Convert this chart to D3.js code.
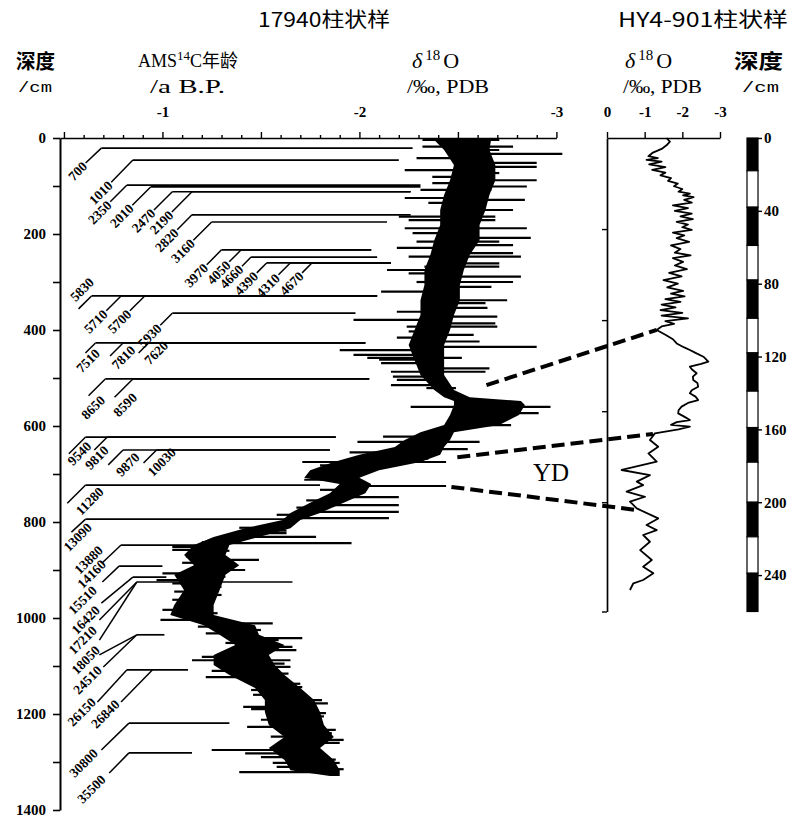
<!DOCTYPE html>
<html>
<head>
<meta charset="utf-8">
<script src="https://cdn.jsdelivr.net/npm/d3@7"></script>
<style>
  body { margin: 0; background: #fff; }
  text { font-family: "Liberation Serif", "DejaVu Serif", serif; fill: #000; }
  .cjk { font-family: "Noto Sans CJK SC", sans-serif; }
  .axis path, .axis line { stroke: #000; }
</style>
</head>
<body>
<svg id="chart" width="796" height="822"></svg>
<script>
// ---- 17940 core: dense d18O band [depth cm, light edge, heavy edge] ----
const coreBand = [
  [0, -2.37, -2.67], [25, -2.43, -2.66], [56, -2.48, -2.69], [88, -2.46, -2.69],
  [119, -2.43, -2.66], [150, -2.41, -2.64], [181, -2.41, -2.61], [213, -2.38, -2.61],
  [244, -2.36, -2.56], [275, -2.33, -2.53], [306, -2.33, -2.51], [338, -2.31, -2.51],
  [369, -2.31, -2.48], [400, -2.28, -2.46], [431, -2.25, -2.43], [463, -2.28, -2.43],
  [494, -2.31, -2.43], [525, -2.38, -2.48], [540, -2.43, -2.56], [548, -2.48, -2.82],
  [556, -2.48, -2.84], [577, -2.46, -2.81], [598, -2.43, -2.71], [613, -2.31, -2.48],
  [629, -2.23, -2.46], [644, -2.18, -2.43], [660, -2.00, -2.41], [675, -1.87, -2.31],
  [692, -1.75, -2.10], [708, -1.72, -2.00], [721, -1.90, -2.06], [740, -1.85, -2.03],
  [760, -1.75, -1.92], [781, -1.65, -1.80], [796, -1.61, -1.70], [813, -1.42, -1.65],
  [831, -1.26, -1.49], [848, -1.16, -1.34], [869, -1.11, -1.32], [890, -1.16, -1.39],
  [910, -1.06, -1.32], [942, -1.11, -1.29], [973, -1.06, -1.26], [994, -1.04, -1.26],
  [1015, -1.21, -1.47], [1035, -1.29, -1.49], [1056, -1.37, -1.62], [1077, -1.26, -1.54],
  [1098, -1.26, -1.57], [1119, -1.34, -1.62], [1146, -1.47, -1.70], [1171, -1.52, -1.77],
  [1196, -1.52, -1.80], [1223, -1.54, -1.82], [1248, -1.62, -1.87], [1271, -1.54, -1.80],
  [1296, -1.62, -1.87], [1317, -1.65, -1.90], [1329, -1.85, -1.90]
];

// single-sample excursions [depth cm, d18O]
const spikes = [
  [4, -2.32], [4, -2.71], [18, -2.78], [18, -2.32], [25, -2.71], [33, -3.03], [42, -2.29],
  [52, -2.90], [60, -2.90], [67, -2.23], [73, -2.71], [81, -2.37], [88, -2.90], [94, -2.37],
  [101, -2.85], [108, -2.31], [108, -2.67], [125, -2.23], [129, -2.84], [135, -2.35],
  [150, -2.78], [164, -2.20], [164, -2.69], [171, -2.25], [171, -2.69], [188, -2.23],
  [188, -2.85], [198, -2.27], [208, -2.87], [216, -2.29], [216, -2.71], [223, -2.78],
  [229, -2.19], [240, -2.78], [247, -2.25], [247, -2.82], [261, -2.71], [268, -2.33],
  [268, -2.71], [275, -2.14], [282, -2.25], [289, -2.82], [300, -2.78], [300, -2.29],
  [310, -2.67], [320, -2.11], [331, -2.32], [338, -2.75], [344, -2.64], [344, -2.34],
  [354, -2.65], [362, -2.19], [372, -2.70], [379, -1.97], [386, -2.69], [393, -2.24],
  [393, -2.70], [403, -2.25], [410, -2.58], [416, -2.19], [424, -2.61], [435, -2.90],
  [442, -1.90], [452, -1.97], [458, -2.52], [458, -2.04], [462, -2.10], [469, -2.11],
  [480, -2.66], [487, -2.64], [487, -2.16], [497, -2.17], [504, -2.19], [515, -2.16],
  [521, -2.34], [521, -2.49], [560, -2.26], [560, -2.97], [573, -2.91], [598, -2.77],
  [622, -2.12], [633, -2.61], [633, -1.99], [640, -2.20], [648, -2.55], [655, -1.95],
  [668, -2.35], [675, -1.71], [675, -2.44], [682, -1.80], [688, -1.86], [695, -2.05],
  [702, -1.76], [712, -1.72], [725, -2.44], [733, -1.80], [748, -2.20], [755, -1.73],
  [765, -2.20], [770, -1.68], [779, -2.20], [785, -1.58], [792, -2.15],
  [812, -1.39], [818, -1.63], [823, -1.63], [828, -1.36], [831, -1.78], [842, -1.20],
  [844, -1.96], [852, -1.05], [858, -1.05], [860, -1.34], [865, -1.14], [872, -1.12],
  [879, -1.49], [885, -1.10], [893, -1.22], [900, -1.42], [907, -1.00], [914, -1.32],
  [921, -0.97], [928, -1.05], [935, -1.30], [945, -1.06], [952, -1.30], [962, -1.05],
  [983, -1.00], [990, -1.28], [1004, -0.99], [1011, -1.56], [1018, -1.18], [1025, -1.50],
  [1032, -1.22], [1042, -1.71], [1046, -1.59], [1052, -1.32], [1060, -1.66], [1067, -1.68],
  [1081, -1.20], [1088, -1.15], [1088, -1.65], [1095, -1.62], [1102, -1.65], [1110, -1.25],
  [1116, -1.64], [1123, -1.22], [1130, -1.42], [1137, -1.70], [1144, -1.71], [1150, -1.45],
  [1160, -1.46], [1171, -1.81], [1178, -1.84], [1185, -1.41], [1190, -1.45], [1198, -1.83],
  [1205, -1.82], [1212, -1.50], [1227, -1.43], [1233, -1.88], [1240, -1.86], [1247, -1.55],
  [1254, -1.92], [1260, -1.90], [1268, -1.62], [1275, -1.25], [1282, -1.42], [1290, -1.50],
  [1295, -1.88], [1302, -1.56], [1302, -1.90], [1310, -1.58], [1315, -1.92], [1321, -1.39]
];

// AMS 14C ages: [age, depth cm, line from, line to (d18O, null = shared line), leader end d18O, leader end depth]
const ageLabels = [
  ["700", 21, -0.69, -2.27, -0.61, 52], ["1010", 46, -0.85, -2.20, -0.74, 92],
  ["2350", 98, -0.82, -2.31, -0.735, 133], ["2010", 102, -0.94, -2.31, -0.847, 140],
  ["2470", 112, -1.05, -2.26, -0.957, 150], ["2190", 112, -1.15, -2.26, -1.048, 154],
  ["2820", 160, -1.15, -2.26, -1.075, 191], ["3160", 175, -1.25, -2.14, -1.157, 213],
  ["3970", 233, -1.30, -2.06, -1.225, 264], ["4050", 233, -1.40, -2.06, -1.339, 258],
  ["4660", 248, -1.45, -2.09, -1.404, 267], ["4390", 260, -1.53, -2.16, -1.479, 281],
  ["4310", 260, -1.65, -2.16, -1.589, 285], ["4670", 260, -1.76, -2.16, -1.709, 281],
  ["5830", 329, -0.64, -2.09, -0.574, 356], ["5710", 329, -0.79, -2.09, -0.715, 360],
  ["5700", 329, -0.91, -2.09, -0.835, 360], ["5930", 365, -1.05, -1.98, -0.989, 390],
  ["7510", 427, -0.66, -2.03, -0.609, 448], ["7810", 427, -0.80, -2.03, -0.734, 454],
  ["7620", 427, -0.93, -2.03, -0.879, 448], ["8650", 502, -0.71, -2.05, -0.625, 537],
  ["8590", 502, -0.85, -2.05, -0.757, 540], ["9540", 623, -0.61, -1.88, -0.525, 658],
  ["9810", 623, -0.72, -1.88, -0.654, 650], ["9870", 650, -0.80, -1.85, -0.725, 681],
  ["10030", 650, -0.97, -1.85, -0.904, 677], ["11280", 723, -0.61, -1.80, -0.517, 761],
  ["13090", 794, -0.61, -1.63, -0.538, 821], ["13880", 848, -0.79, -1.20, -0.695, 885],
  ["14160", 892, -0.78, -1.00, -0.695, 925], ["15510", 915, -0.85, -1.02, -0.69, 969],
  ["16420", 925, -0.87, -1.66, -0.68, 1004], ["17210", 925, -0.87, null, -0.68, 1046],
  ["18050", 1035, -0.87, -1.01, -0.68, 1077], ["24510", 1035, -0.87, null, -0.70, 1102],
  ["26150", 1108, -0.82, -1.13, -0.67, 1175], ["26840", 1108, -0.95, null, -0.79, 1175],
  ["30800", 1219, -0.83, -1.34, -0.69, 1275], ["35500", 1281, -0.83, -1.15, -0.73, 1323]
];
// where the rotated text ends relative to the leader end (px)
const textShift = {
  "5830": [13, -29], "7510": [12, -2], "7810": [23, -8], "7620": [27, -10],
  "8650": [14, 2], "8590": [20, -2], "9540": [20, -10], "9810": [12, -2],
  "9870": [29, -10], "10030": [30, -13], "11280": [34, -14], "13090": [18, -7],
  "13880": [-2, -15], "14160": [1, -20], "15510": [-7, -15], "16420": [-2, -12],
  "17210": [-5, -12], "18050": [-2, -7], "24510": [-4, 1], "26150": [-4, -2],
  "26840": [-4, 0], "30800": [-6, 1], "35500": [-6, 4]
};

// ---- HY4-901 core: [depth cm, d18O] ----
const hySeries = [
  [0, -1.58], [2, -1.67], [4, -1.58], [6, -1.45], [8, -1.22], [10, -1.10], [11, -1.35],
  [12, -1.05], [13, -1.45], [14.5, -1.12], [16, -1.55], [17.5, -1.20], [19, -1.55],
  [20.5, -1.42], [22, -1.70], [23.5, -1.62], [25, -1.88], [26.5, -1.78], [28, -2.00],
  [29.5, -1.90], [30.5, -2.20], [31.5, -2.02], [32.5, -2.30], [34, -2.05], [35.5, -2.25],
  [37, -1.75], [38.5, -2.15], [40, -1.80], [41.5, -2.25], [43, -1.95], [44.5, -2.28],
  [46, -1.85], [47.5, -2.15], [49, -2.00], [50.5, -2.25], [52, -1.75], [53.5, -2.05],
  [55, -1.85], [57, -2.18], [59, -1.70], [61, -1.95], [63, -1.80], [64.5, -2.22],
  [66, -1.75], [68, -2.02], [70, -1.80], [72, -2.12], [74, -1.65], [76, -1.98],
  [78, -1.50], [80, -1.88], [82, -1.60], [84, -2.02], [85.5, -1.70], [87, -2.06],
  [88.5, -1.55], [90, -1.95], [91.5, -1.45], [93, -1.82], [94.5, -1.42], [96, -2.00],
  [97.5, -1.45], [99, -2.15], [100.5, -1.55], [102, -1.78], [103.5, -1.45], [105.4, -1.32],
  [108, -1.55], [110.5, -1.75], [112.8, -1.85], [115, -2.05], [116.4, -2.20], [118, -2.35],
  [120.1, -2.56], [122.8, -2.69], [124, -2.50], [125.6, -2.20], [127, -2.25], [129.2, -2.38],
  [131, -2.28], [132.9, -2.29], [134.5, -2.40], [136.6, -2.42], [138.5, -2.25], [140.2, -2.20],
  [142, -2.35], [143.9, -2.42], [145.5, -2.15], [147.5, -1.98], [149.5, -1.90], [151.2, -1.89],
  [153, -2.05], [154.9, -2.20], [156, -1.85], [157.5, -1.70], [158.5, -2.20], [160, -1.90],
  [162.2, -1.27], [165.8, -1.14], [169.5, -1.36], [173.2, -1.10], [177.7, -1.32],
  [182.3, -0.39], [185.1, -1.14], [188.7, -0.79], [190.6, -0.96], [194.2, -0.52],
  [197, -1.01], [199.7, -0.61], [203.4, -0.79], [208.9, -1.36], [212.5, -1.05],
  [215.3, -1.32], [218, -0.96], [221.7, -1.14], [226.3, -0.88], [231.7, -1.19],
  [235.4, -0.96], [239, -1.23], [242.7, -0.96], [244.5, -0.70], [248.2, -0.61]
];

// correlation ties: [17940 depth, 17940 d18O, HY4 depth, HY4 d18O]
const ties = [
  [515, -2.645, 105.4, -1.32],
  [665, -2.497, 162.5, -1.22],
  [727, -2.467, 204.3, -0.80]
];

// HY4-901 depth bar block edges (cm), starting with black
const barEdges = [0, 18, 38, 59, 78, 99, 118, 139, 159, 178, 200, 219, 239, 260];

const leftDepthTicks = d3.range(0, 1401, 100);
const leftLabelTicks = [0, 200, 400, 600, 800, 1000, 1200, 1400];
const topTicks = d3.range(-5, -31, -1).map(d => d / 10);
const topLabels = [-1, -2, -3];
const hyTopTicks = [0, -1, -2, -3];
const hyDepthLabels = [0, 40, 80, 120, 160, 200, 240];
const hyAxisTicks = [50, 100, 150, 200, 260];

const svg = d3.select("#chart");

// scales
const yL = d3.scaleLinear().domain([0, 1400]).range([138, 810]);
const xL = d3.scaleLinear().domain([-0.48, -3]).range([60, 556.4]);
const yR = d3.scaleLinear().domain([0, 260]).range([138, 611.5]);
const xR = d3.scaleLinear().domain([0, -3]).range([607, 720]);

// age label horizontal lines (under the record)
svg.append("g").selectAll("line")
    .data(ageLabels.filter(d => d[3] !== null))
    .join("line")
    .attr("x1", d => xL(d[2])).attr("x2", d => xL(d[3]))
    .attr("y1", d => yL(d[1])).attr("y2", d => yL(d[1]))
    .attr("stroke", "#000").attr("stroke-width", 1.7);

// dense band
const band = d3.area()
    .x0(d => xL(d[1])).x1(d => xL(d[2]))
    .y(d => yL(d[0]));
svg.append("path").datum(coreBand).attr("d", band).attr("fill", "#000");

// spikes from band centre
const centre = d3.scaleLinear()
    .domain(coreBand.map(d => d[0]))
    .range(coreBand.map(d => (d[1] + d[2]) / 2));
svg.append("g").selectAll("line")
    .data(spikes)
    .join("line")
    .attr("x1", d => xL(centre(d[0]))).attr("x2", d => xL(d[1]))
    .attr("y1", d => yL(d[0])).attr("y2", d => yL(d[0]))
    .attr("stroke", "#000").attr("stroke-width", 2.2);

// leaders + rotated age text
const lab = svg.append("g");
ageLabels.forEach(d => {
    const x0 = xL(d[2]), y0 = yL(d[1]);
    const ex = xL(d[4]), ey = yL(d[5]);
    lab.append("line")
        .attr("x1", x0).attr("y1", y0).attr("x2", ex).attr("y2", ey)
        .attr("stroke", "#000").attr("stroke-width", 1.5);
    const s = textShift[d[0]] || [-1, 1];
    lab.append("text")
        .attr("transform", `translate(${ex + s[0]},${ey + s[1]}) rotate(-45)`)
        .attr("text-anchor", "end")
        .attr("dy", "0.35em")
        .style("font-size", "13.5px")
        .style("font-weight", "bold")
        .text(d[0]);
});

// left depth axis
const axL = svg.append("g").attr("class", "axis")
    .attr("transform", "translate(60,0)")
    .call(d3.axisLeft(yL).tickValues(leftDepthTicks).tickSize(7).tickSizeOuter(0).tickPadding(7)
        .tickFormat(d => leftLabelTicks.includes(d) ? d : ""));
axL.select(".domain").attr("stroke-width", 2);
axL.selectAll("line").attr("stroke-width", 1.6);
axL.selectAll("text").style("font-size", "15px").style("font-family", "Liberation Serif").style("font-weight", "bold");

// top d18O axis
const axT = svg.append("g").attr("class", "axis")
    .attr("transform", "translate(0,138)")
    .call(d3.axisTop(xL).tickValues(topTicks).tickSize(3).tickSizeOuter(0).tickPadding(18)
        .tickFormat(d => topLabels.some(t => Math.abs(t - d) < 1e-6) ? "-" + Math.abs(d) : ""));
axT.select(".domain").attr("stroke-width", 1.7);
axT.selectAll(".tick line").attr("stroke-width", 1.4)
    .attr("y2", d => Math.abs(d * 2 - Math.round(d * 2)) < 1e-6 ? -6 : -3);
axT.selectAll("text").style("font-size", "15px").style("font-family", "Liberation Serif").style("font-weight", "bold");

// ---- right panel ----
const axRT = svg.append("g").attr("class", "axis")
    .attr("transform", "translate(0,138)")
    .call(d3.axisTop(xR).tickValues(hyTopTicks).tickSize(6).tickSizeOuter(0).tickPadding(15)
        .tickFormat(d => d === 0 ? "0" : "-" + Math.abs(d)));
axRT.select(".domain").attr("stroke-width", 1.7);
axRT.selectAll("line").attr("stroke-width", 1.4);
axRT.selectAll("text").style("font-size", "15px").style("font-family", "Liberation Serif").style("font-weight", "bold");

const axRV = svg.append("g").attr("class", "axis")
    .attr("transform", "translate(607,0)")
    .call(d3.axisLeft(yR).tickValues(hyAxisTicks).tickSize(5).tickSizeOuter(0).tickFormat(""));
axRV.select(".domain").attr("stroke-width", 1.7);
axRV.selectAll("line").attr("stroke-width", 1.4);

svg.append("path").datum(hySeries)
    .attr("d", d3.line().x(d => xR(d[1])).y(d => yR(d[0])))
    .attr("fill", "none").attr("stroke", "#000").attr("stroke-width", 1.8)
    .attr("stroke-linejoin", "round");

// depth bar
const blocks = d3.pairs(barEdges).map((p, i) => ({ a: p[0], b: p[1], black: i % 2 === 0 }));
svg.append("g").selectAll("rect")
    .data(blocks)
    .join("rect")
    .attr("x", 747).attr("width", 11)
    .attr("y", d => yR(d.a)).attr("height", d => yR(d.b) - yR(d.a))
    .attr("fill", d => d.black ? "#000" : "#fff")
    .attr("stroke", "#000").attr("stroke-width", 1.2);
const axBar = svg.append("g").attr("class", "axis")
    .attr("transform", "translate(758,0)")
    .call(d3.axisRight(yR).tickValues(hyDepthLabels).tickSize(4).tickSizeOuter(0).tickPadding(2));
axBar.select(".domain").remove();
axBar.selectAll("line").attr("stroke-width", 1.4);
axBar.selectAll("text").style("font-size", "15px").style("font-family", "Liberation Serif").style("font-weight", "bold");

// tie lines
svg.append("g").selectAll("line")
    .data(ties)
    .join("line")
    .attr("x1", d => xL(d[1])).attr("y1", d => yL(d[0]))
    .attr("x2", d => xR(d[3])).attr("y2", d => yR(d[2]))
    .attr("stroke", "#000").attr("stroke-width", 4).attr("stroke-dasharray", "13 6");

svg.append("text").attr("x", 533).attr("y", 481)
    .style("font-size", "25px").text("YD");

// ---- headers ----
function header(x, y, size, str, cls, len) {
    const t = svg.append("text").attr("x", x).attr("y", y).style("font-size", size + "px").text(str);
    if (cls) t.attr("class", cls);
    if (len) t.attr("textLength", len).attr("lengthAdjust", "spacingAndGlyphs");
    return t;
}
header(258, 27, 20, "17940柱状样", "cjk", 132);
header(618, 27, 20, "HY4-901柱状样", "cjk", 170);
header(16, 69, 20, "深度", "cjk", 39).style("font-weight", "bold");
header(734, 69, 20, "深度", "cjk", 49).style("font-weight", "bold");
header(18, 92, 15, "/cm", null, 34).style("font-family", "Liberation Mono");
header(742, 92, 15, "/cm", null, 37).style("font-family", "Liberation Mono");
header(150, 93, 18, "/a B.P.", null, 75);
header(407, 93, 18, "/‰, PDB", null, 82);
header(623, 93, 18, "/‰, PDB", null, 79);

const ams = svg.append("text").attr("x", 138).attr("y", 67).style("font-size", "18px");
ams.append("tspan").text("AMS");
ams.append("tspan").attr("dy", -7).style("font-size", "13px").text("14");
ams.append("tspan").attr("dy", 7).text("C");
ams.append("tspan").attr("class", "cjk").style("font-size", "18px").text("年龄");

function delta(x, y) {
    const t = svg.append("text").attr("x", x).attr("y", y).style("font-size", "22px");
    t.append("tspan").style("font-style", "italic").text("δ");
    t.append("tspan").attr("dx", 3).attr("dy", -8).style("font-size", "15px").text("18");
    t.append("tspan").attr("dx", 3).attr("dy", 8).text("O");
}
delta(412, 68);
delta(625, 68);
</script>
</body>
</html>
